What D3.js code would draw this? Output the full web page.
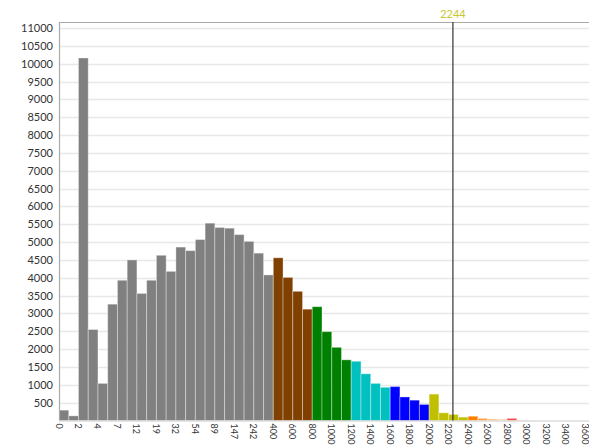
<!DOCTYPE html>
<html>
<head>
<meta charset="utf-8">
<script src="https://cdn.jsdelivr.net/npm/d3@7"></script>
<style>
  body { margin: 0; background: #fff; }
  text { font-family: Lato, "Open Sans", sans-serif; fill: #333; }
</style>
</head>
<body>
<div id="chart"></div>
<script>
// tick labels sit on every second bin edge
var tickLabels = ["0", "2", "4", "7", "12", "19", "32", "54", "89", "147", "242",
  "400", "600", "800", "1000", "1200", "1400", "1600", "1800", "2000", "2200",
  "2400", "2600", "2800", "3000", "3200", "3400", "3600"];

// one count per bin (54 bins)
var counts = [290, 130, 10160, 2550, 1040, 3260, 3930, 4500, 3560, 3930,
  4630, 4180, 4860, 4760, 5070, 5530, 5410, 5390, 5210, 5020,
  4690, 4080,
  4560, 4010, 3620, 3120,
  3190, 2490, 2050, 1700,
  1660, 1310, 1040, 930,
  950, 660, 570, 450,
  740, 215, 170, 95,
  120, 60, 42, 36,
  60, 14, 5, 4,
  3, 3, 2, 2];

var yTicks = d3.range(500, 11001, 500);
var markValue = 2244;

var svgWidth = 589;
var svgHeight = 448;
var margin = { top: 22, right: 0, bottom: 27.5, left: 59 };

var svg = d3.select("#chart")
  .append("svg")
  .attr("width", svgWidth)
  .attr("height", svgHeight);

// x scale over bin index
var x = d3.scaleLinear()
  .domain([0, counts.length])
  .range([59, 585]);

var y = d3.scaleLinear()
  .domain([0, 11000])
  .range([420.5, 28]);

// colour per bin, by range of bins
function barColor(i) {
  if (i < 22) return "#808080";
  if (i < 26) return "#804000";
  if (i < 30) return "#008000";
  if (i < 34) return "#00c0c0";
  if (i < 38) return "#0000ff";
  if (i < 42) return "#c0c000";
  var tail = ["#ff8000", "#ffa040", "#ffb870", "#ffc898",
    "#ff4848", "#ffa8a8", "#ffc8c8", "#ffd8d8",
    "#e0e0e0", "#e0e0e0", "#e0e0e0", "#e0e0e0"];
  return tail[i - 42];
}

// grid lines
svg.append("g")
  .selectAll("line")
  .data(yTicks)
  .enter()
  .append("line")
  .attr("x1", margin.left)
  .attr("x2", svgWidth)
  .attr("y1", d => Math.round(y(d)) + 0.5)
  .attr("y2", d => Math.round(y(d)) + 0.5)
  .attr("stroke", "#e8e8e8")
  .attr("stroke-width", 1.5);

// y labels
svg.append("g")
  .selectAll("text")
  .data(yTicks)
  .enter()
  .append("text")
  .attr("x", 53)
  .attr("y", d => y(d) + 4)
  .attr("text-anchor", "end")
  .style("font-size", "11px")
  .text(d => d);

// bars
svg.append("g")
  .selectAll("rect")
  .data(counts)
  .enter()
  .append("rect")
  .attr("x", (d, i) => x(i))
  .attr("y", d => y(d))
  .attr("width", x(1) - x(0))
  .attr("height", d => y(0) - y(d))
  .attr("fill", (d, i) => barColor(i))
  .attr("stroke", "#fff")
  .attr("stroke-opacity", 0.35)
  .attr("stroke-width", 1);

// frame
svg.append("path")
  .attr("d", `M${margin.left + 0.5},${y(0)} V${margin.top + 0.5} H${svgWidth}`)
  .attr("fill", "none")
  .attr("stroke", "#aaa")
  .attr("stroke-width", 1.2);

svg.append("line")
  .attr("x1", margin.left)
  .attr("x2", svgWidth)
  .attr("y1", y(0) + 0.5)
  .attr("y2", y(0) + 0.5)
  .attr("stroke", "#ccc")
  .attr("stroke-width", 1);

// x labels, rotated
svg.append("g")
  .selectAll("text")
  .data(tickLabels)
  .enter()
  .append("text")
  .attr("transform", (d, k) => `translate(${x(2 * k) - 3.5}, ${y(0) + 3}) rotate(90)`)
  .style("font-size", "9px")
  .text(d => d);

// marker line at 2244
var k0 = tickLabels.indexOf("2200");
var markIndex = 2 * k0 + 2 * (markValue - 2200) / 200;

svg.append("line")
  .attr("x1", x(markIndex))
  .attr("x2", x(markIndex))
  .attr("y1", margin.top)
  .attr("y2", y(0))
  .attr("stroke", "#333")
  .attr("stroke-width", 1.2);

svg.append("text")
  .attr("x", x(markIndex))
  .attr("y", 18)
  .attr("text-anchor", "middle")
  .style("font-size", "11px")
  .style("fill", "#c8c830")
  .text(markValue);
</script>
</body>
</html>
